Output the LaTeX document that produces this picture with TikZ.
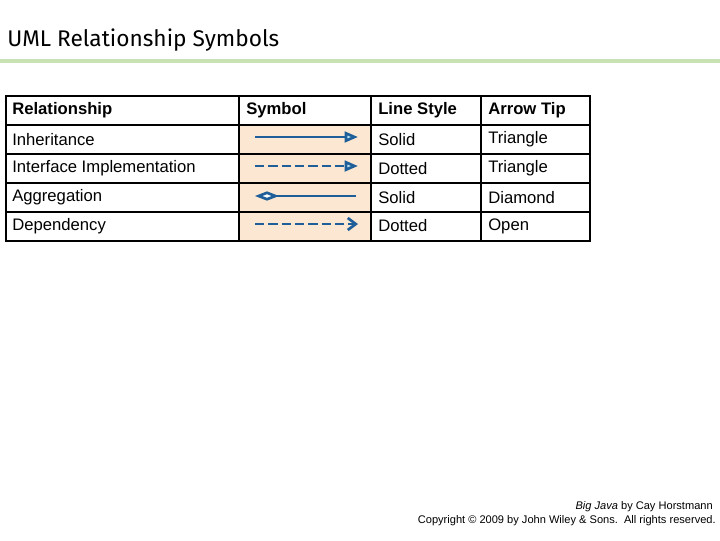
\documentclass[tikz,border=0pt]{standalone}
\usepackage{fontspec}
\setmainfont{Liberation Sans}
\newfontfamily\titlefont{Fira Sans}
\usetikzlibrary{arrows.meta, positioning}
\definecolor{umlblue}{HTML}{1F5F99}
\definecolor{tipfill}{HTML}{BFE3F5}
\definecolor{cellpeach}{HTML}{FCE8D2}
\definecolor{rulegreen}{HTML}{C9E2B3}
\tikzstyle{cell}=[anchor=west, inner sep=0pt, font=\fontsize{12.5}{14}\selectfont]
\tikzstyle{head}=[cell, font=\fontsize{12.5}{14}\selectfont\bfseries]
\tikzstyle{rel}=[umlblue, line width=2pt]
\tikzset{>=Stealth}

\begin{document}
\begin{tikzpicture}[x=0.75pt, y=-0.75pt]
\useasboundingbox (0,0) rectangle (720,540);
% the title and its rule
\node[anchor=west, inner sep=0pt, font=\titlefont\fontsize{17}{20}\selectfont] (T) at (7,40) {UML Relationship Symbols};
\fill[rulegreen] (0,58.5) rectangle (720,62.5);
% the symbol column
\fill[cellpeach] (239,125) rectangle (371,241);
% the grid
\draw[line width=0.8pt] (6,96) rectangle (590,241);
\foreach \y in {125,154,183,212} \draw[line width=0.8pt] (6,\y) -- (590,\y);
\foreach \x in {239,371,481} \draw[line width=0.8pt] (\x,96) -- (\x,241);
% the header
\node[head] (H0) at (12,110.5) {Relationship};
\node[head] (H1) at (246,110.5) {Symbol};
\node[head] (H2) at (378,110.5) {Line Style};
\node[head] (H3) at (488,110.5) {Arrow Tip};
% the rows
\node[cell] (R1) at (12,139.5) {Inheritance};
\node[cell] (S1) at (378,139.5) {Solid};
\node[cell] (A1) at (488,139.5) {Triangle};
\node[cell] (R2) at (12,168.5) {Interface Implementation};
\node[cell] (S2) at (378,168.5) {Dotted};
\node[cell] (A2) at (488,168.5) {Triangle};
\node[cell] (R3) at (12,197.5) {Aggregation};
\node[cell] (S3) at (378,197.5) {Solid};
\node[cell] (A3) at (488,197.5) {Diamond};
\node[cell] (R4) at (12,226) {Dependency};
\node[cell] (S4) at (378,226) {Dotted};
\node[cell] (A4) at (488,226) {Open};
% the symbols
\coordinate (P1) at (255,137); \coordinate (Q1) at (358,137);
\coordinate (P2) at (255,166); \coordinate (Q2) at (358,166);
\coordinate (P3) at (255,196); \coordinate (Q3) at (356,196);
\coordinate (P4) at (255,224); \coordinate (Q4) at (358,224);
\draw[rel, -{Triangle[open, fill=tipfill, length=10pt, width=8pt]}] (P1) -- (Q1);
\draw[rel, dash pattern=on 7pt off 3pt, -{Triangle[open, fill=tipfill, length=10pt, width=8pt]}] (P2) -- (Q2);
\draw[rel, {Diamond[open, fill=white, length=18pt, width=7pt]}-] (P3) -- (Q3);
\draw[rel, dash pattern=on 7pt off 3pt, -{Straight Barb[length=6pt, width=9pt]}] (P4) -- (Q4);
% the credit
\node[anchor=east, inner sep=0pt, font=\fontsize{8.3}{10}\selectfont] (C1) at (713,507) {\textit{Big Java} by Cay Horstmann};
\node[anchor=east, inner sep=0pt, font=\fontsize{8.3}{10}\selectfont] (C2) at (716,521) {Copyright \textcopyright{} 2009 by John Wiley \& Sons.\ \ All rights reserved.};
\end{tikzpicture}
\end{document}
